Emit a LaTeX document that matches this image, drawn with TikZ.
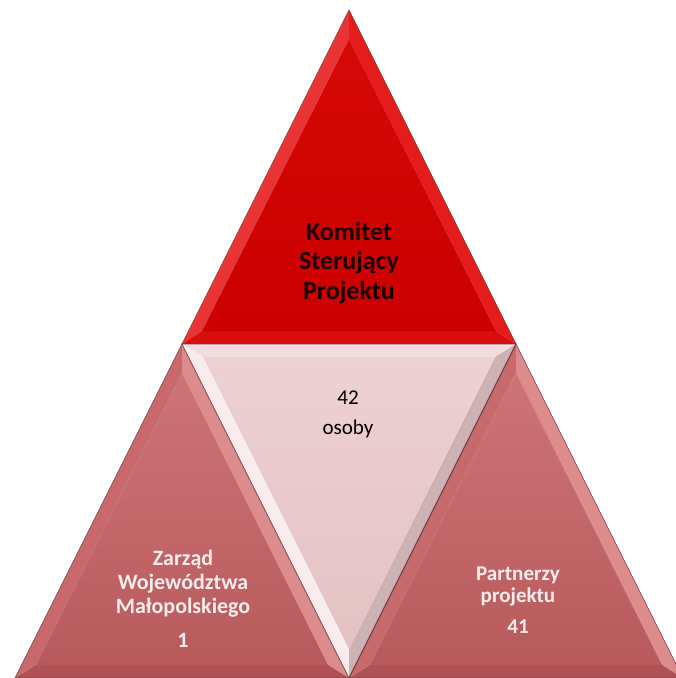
\documentclass[tikz,border=0pt]{standalone}
\usepackage{fontspec}
\setmainfont{Carlito}
\definecolor{tIn}{HTML}{CC0000}
\definecolor{tInTop}{HTML}{D60808}
\definecolor{tL}{HTML}{E83434}
\definecolor{tR}{HTML}{E41C1C}
\definecolor{tB}{HTML}{D80E0E}
\definecolor{sIn}{HTML}{B85A5C}
\definecolor{sInTop}{HTML}{CE7476}
\definecolor{sL}{HTML}{C86A6B}
\definecolor{sR}{HTML}{DC8C8D}
\definecolor{sB}{HTML}{B05253}
\definecolor{mIn}{HTML}{E4C2C4}
\definecolor{mInTop}{HTML}{EDD1D3}
\definecolor{mT}{HTML}{F3DCDE}
\definecolor{mL}{HTML}{F8EDEE}
\definecolor{mR}{HTML}{CDB2B4}
\definecolor{edge}{HTML}{7A3A3A}
\definecolor{lighttext}{HTML}{F8ECEC}
\tikzset{
  face/.style={draw=none},
  outline/.style={draw=edge, line width=0.35pt},
  lbl/.style={align=center, inner sep=0pt},
}
\begin{document}
\begin{tikzpicture}[x=0.02cm,y=-0.02cm]
\useasboundingbox (0,0) rectangle (675,678);
% outer corners
\coordinate (A) at (349,10);
\coordinate (B) at (182,344);
\coordinate (C) at (516,344);
\coordinate (D) at (15,678);
\coordinate (E) at (349,678);
\coordinate (F) at (683,678);
% inner corners
\coordinate (ta) at (349,39);
\coordinate (tb) at (202,331);
\coordinate (tc) at (496,331);
\coordinate (la) at (182,373);
\coordinate (lb) at (36,665);
\coordinate (lc) at (328,665);
\coordinate (ra) at (516,373);
\coordinate (rb) at (370,665);
\coordinate (rc) at (662,665);
\coordinate (ma) at (203,357);
\coordinate (mb) at (495,357);
\coordinate (mc) at (349,649);
% top triangle
\fill[tL] (A) -- (B) -- (tb) -- (ta) -- cycle;
\fill[tR] (A) -- (ta) -- (tc) -- (C) -- cycle;
\fill[tB] (B) -- (C) -- (tc) -- (tb) -- cycle;
\shade[top color=tInTop, bottom color=tIn] (ta) -- (tb) -- (tc) -- cycle;
\draw[outline] (A) -- (B) -- (C) -- cycle;
% left triangle
\fill[sL] (B) -- (D) -- (lb) -- (la) -- cycle;
\fill[sR] (B) -- (la) -- (lc) -- (E) -- cycle;
\fill[sB] (D) -- (E) -- (lc) -- (lb) -- cycle;
\shade[top color=sInTop, bottom color=sIn] (la) -- (lb) -- (lc) -- cycle;
\draw[outline] (B) -- (D) -- (E) -- cycle;
% right triangle
\fill[sL] (C) -- (E) -- (rb) -- (ra) -- cycle;
\fill[sR] (C) -- (ra) -- (rc) -- (F) -- cycle;
\fill[sB] (E) -- (F) -- (rc) -- (rb) -- cycle;
\shade[top color=sInTop, bottom color=sIn] (ra) -- (rb) -- (rc) -- cycle;
\draw[outline] (C) -- (E) -- (F) -- cycle;
% middle inverted triangle
\fill[mT] (B) -- (C) -- (mb) -- (ma) -- cycle;
\fill[mL] (B) -- (ma) -- (mc) -- (E) -- cycle;
\fill[mR] (C) -- (E) -- (mc) -- (mb) -- cycle;
\shade[top color=mInTop, bottom color=mIn] (ma) -- (mb) -- (mc) -- cycle;
\draw[draw=edge!70!gray, line width=0.6pt] (C) -- (E);
\draw[outline] (B) -- (C) -- (E) -- cycle;
% labels
\node[lbl, font=\fontsize{14.8pt}{16.8pt}\selectfont\bfseries, text=black!90!red] (ktop) at (349,263) {Komitet\\Sterujący\\Projektu};
\node[lbl, font=\fontsize{12pt}{17pt}\selectfont, text=black] (kmid) at (348,414) {42\\osoby};
\node[lbl, font=\fontsize{12.5pt}{13.7pt}\selectfont\bfseries, text=lighttext] (kleft) at (183,599) {Zarząd\\Województwa\\Małopolskiego\\[5.6pt]1};
\node[lbl, font=\fontsize{12pt}{12.6pt}\selectfont\bfseries, text=lighttext] (kright) at (518,600) {Partnerzy\\projektu\\[5pt]41};
\end{tikzpicture}
\end{document}
